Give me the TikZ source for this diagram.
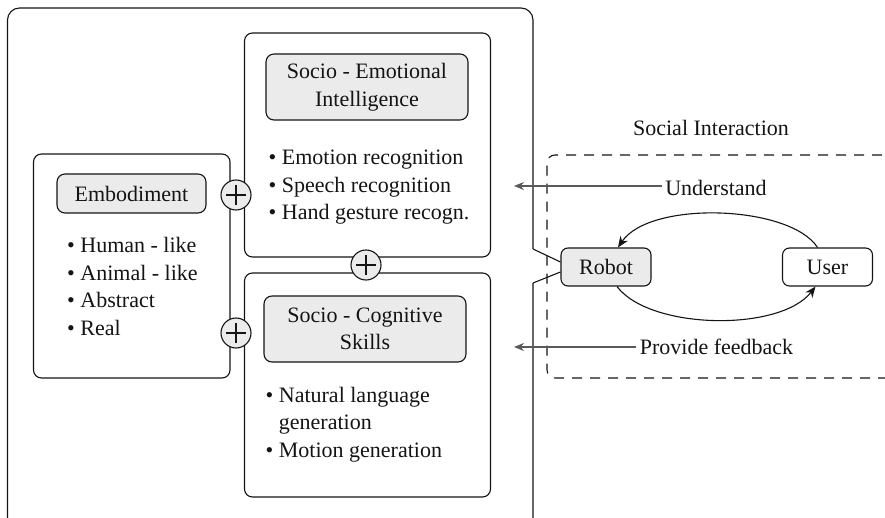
\documentclass[tikz,border=0pt]{standalone}
\usepackage{fontspec}
\setmainfont{Liberation Serif}
\usetikzlibrary{arrows.meta,calc}
\definecolor{boxfill}{HTML}{EBEBEB}
\definecolor{linecol}{HTML}{141414}
\definecolor{arrowgray}{HTML}{5A5A5A}
\begin{document}
\begin{tikzpicture}[x=1pt,y=-1pt,
  every node/.style={font=\fontsize{22}{27.5}\selectfont, text=linecol},
  frame/.style={draw=linecol, line width=1.1pt, rounded corners=8pt},
  titlebox/.style={draw=linecol, line width=1.1pt, rounded corners=8pt, fill=boxfill, align=center, inner sep=0pt},
  listline/.style={anchor=base west, inner sep=0pt},
  plusnode/.style={draw=linecol, line width=1.1pt, circle, fill=boxfill, minimum size=30pt, inner sep=0pt},
  agent/.style={draw=linecol, line width=1.1pt, rounded corners=7pt, minimum width=90pt, minimum height=38pt, inner sep=0pt},
  feedarrow/.style={draw=arrowgray, line width=1.1pt, -{Stealth[length=10pt,width=8pt]}},
  loop/.style={draw=linecol, line width=1.1pt, -{Stealth[length=11pt,width=9pt]}}
]
\useasboundingbox (0,0) rectangle (885,518);
\clip (0,0) rectangle (885,518);

% interaction partners
\node[agent, fill=boxfill] (robot) at (606,267) {Robot};
\node[agent, fill=white] (user) at (827.5,267) {User};

% outer frame with the notch reaching out to the robot
\draw[linecol, line width=1.1pt, rounded corners=12pt]
  (533,249) -- (533,8) -- (7.5,8) -- (7.5,530) -- (533,530) -- (533,283);
\draw[linecol, line width=1.1pt] (533,249) -- ([yshift=5pt]robot.west);
\draw[linecol, line width=1.1pt] (533,283) -- ([yshift=-5pt]robot.west);

% social interaction region
\draw[linecol, line width=1.1pt, dash pattern=on 10pt off 8pt, rounded corners=8pt]
  (900,155) -- (547,155) -- (547,378) -- (900,378);
\node (social) at (711,128) {Social Interaction};

% embodiment
\draw[frame] (33.5,154) rectangle (230,378);
\node[titlebox, minimum width=149pt, minimum height=39pt] (embodiment) at (131.5,193.5) {Embodiment};
\node[listline] (e1) at (67,253) {\textbullet\ Human - like};
\node[listline] (e2) at (67,280.5) {\textbullet\ Animal - like};
\node[listline] (e3) at (67,308) {\textbullet\ Abstract};
\node[listline] (e4) at (67,335.5) {\textbullet\ Real};

% socio-emotional intelligence
\draw[frame] (244.5,33) rectangle (490.5,257);
\node[titlebox, minimum width=202pt, minimum height=66pt] (emotional) at (367,87) {Socio - Emotional\\Intelligence};
\node[listline] (s1) at (268.5,165) {\textbullet\ Emotion recognition};
\node[listline] (s2) at (268.5,192.5) {\textbullet\ Speech recognition};
\node[listline] (s3) at (268.5,220) {\textbullet\ Hand gesture recogn.};

% socio-cognitive skills
\draw[frame] (244.5,273) rectangle (490.5,497);
\node[titlebox, minimum width=202pt, minimum height=66pt] (cognitive) at (365,329) {Socio - Cognitive\\Skills};
\node[listline] (c1) at (265.5,402) {\textbullet\ Natural language};
\node[listline] (c2) at (265.5,429.5) {\hphantom{\textbullet\ }generation};
\node[listline] (c3) at (265.5,457) {\textbullet\ Motion generation};

% combination markers
\foreach \name/\px/\py in {plusA/236/195, plusB/236/333, plusC/366/265}{
  \node[plusnode] (\name) at (\px,\py) {};
  \draw[linecol, line width=1.1pt] ($(\name)+(-10,0)$) -- ($(\name)+(10,0)$)
                                   ($(\name)+(0,-10)$) -- ($(\name)+(0,10)$);
}

% feedback into the robot's skills
\node (understand) at (716,188) {Understand};
\node (feedback) at (716.5,347) {Provide feedback};
\coordinate (uend) at (514,186);
\coordinate (fend) at (514,347);
\draw[feedarrow] (understand.west |- uend) -- (uend);
\draw[feedarrow] (feedback.west |- fend) -- (fend);

% interaction loop
\draw[loop] ([xshift=-10pt]user.north) .. controls (790,205) and (650,200) .. ([xshift=12pt]robot.north);
\draw[loop] ([xshift=11pt]robot.south) .. controls (650,330) and (780,332) .. ([xshift=-12pt]user.south);
\end{tikzpicture}
\end{document}
